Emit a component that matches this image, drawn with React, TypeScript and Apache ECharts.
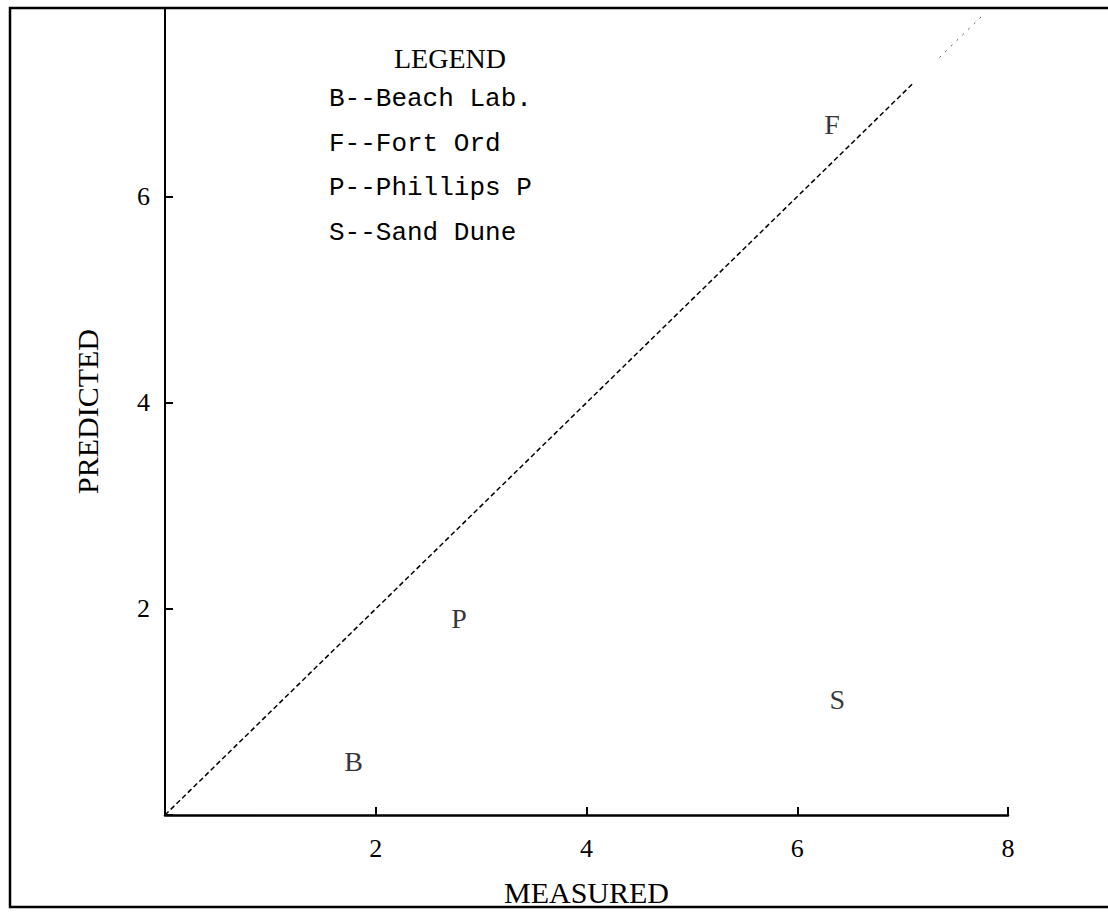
import React, { useEffect, useRef } from "react";
import * as echarts from "echarts";

const siteLetters = ["B", "P", "F", "S"];
const measured = [1.79, 2.79, 6.33, 6.38];
const predicted = [0.52, 1.91, 6.7, 1.12];
const identityMain = [0, 7.1];
const identityFaint = [7.35, 7.75];
const xTicks = [2, 4, 6, 8];
const yTicks = [2, 4, 6];
const legendTitle = "LEGEND";
const legendLines = ["B--Beach Lab.", "F--Fort Ord", "P--Phillips P", "S--Sand Dune"];

const SERIF = "'Liberation Serif', 'DejaVu Serif', serif";
const MONO = "'Liberation Mono', 'DejaVu Sans Mono', monospace";

export default function App() {
  const ref = useRef<HTMLDivElement>(null);
  useEffect(() => {
    if (!ref.current) return;
    const chart = echarts.init(ref.current, undefined, { renderer: "svg" });
    const pts = measured.map((x, i) => [x, predicted[i], siteLetters[i]]);
    const legendGraphics: any[] = [
      {
        type: "text",
        left: 452 - 58,
        top: 44,
        style: { text: legendTitle, font: `28px ${SERIF}`, fill: "#000" },
      },
      ...legendLines.map((t, i) => ({
        type: "text",
        left: 329,
        top: 86 + i * 44.7,
        style: { text: t, font: `26px ${MONO}`, fill: "#000" },
      })),
    ];
    chart.setOption({
      animation: false,
      backgroundColor: "#fff",
      grid: { left: 165, top: 8, width: 843, height: 814 },
      xAxis: {
        type: "value",
        min: 0,
        max: 8,
        interval: 2,
        axisLine: { show: true, lineStyle: { color: "#000", width: 2.5 } },
        axisTick: { show: true, inside: true, length: 8, lineStyle: { color: "#000", width: 2 } },
        splitLine: { show: false },
        axisLabel: {
          margin: 20,
          fontFamily: SERIF,
          fontSize: 26,
          color: "#000",
          formatter: (v: number) => (xTicks.includes(v) ? String(v) : ""),
        },
        name: "MEASURED",
        nameLocation: "middle",
        nameGap: 62,
        nameTextStyle: { fontFamily: SERIF, fontSize: 30, color: "#000" },
      },
      yAxis: {
        type: "value",
        min: 0,
        max: 7.83,
        interval: 2,
        axisLine: { show: true, lineStyle: { color: "#000", width: 2 } },
        axisTick: { show: true, inside: true, length: 8, lineStyle: { color: "#000", width: 2 } },
        splitLine: { show: false },
        axisLabel: {
          margin: 15,
          fontFamily: SERIF,
          fontSize: 26,
          color: "#000",
          showMaxLabel: false,
          formatter: (v: number) => (yTicks.includes(v) ? String(v) : ""),
        },
        name: "PREDICTED",
        nameLocation: "middle",
        nameGap: 63,
        nameTextStyle: { fontFamily: SERIF, fontSize: 30, color: "#000" },
      },
      series: [
        {
          type: "line",
          data: identityMain.map((v) => [v, v]),
          symbol: "none",
          lineStyle: { color: "#000", width: 1.5, type: [5, 3] },
          z: 2,
        },
        {
          type: "line",
          data: identityFaint.map((v) => [v, v]),
          symbol: "none",
          lineStyle: { color: "#555", width: 1, type: [2, 6] },
          z: 2,
        },
        {
          type: "scatter",
          data: pts,
          symbol: "circle",
          symbolSize: 2,
          itemStyle: { color: "rgba(0,0,0,0)" },
          label: {
            show: true,
            position: "inside",
            formatter: (p: any) => p.data[2],
            fontFamily: SERIF,
            fontSize: 28,
            color: "#000",
          },
          z: 3,
        },
      ],
      graphic: [
        {
          type: "polyline",
          shape: {
            points: [
              [1108, 8],
              [10, 8],
              [10, 907],
              [1108, 907],
            ],
          },
          style: { stroke: "#000", lineWidth: 2.5, fill: "none" },
          silent: true,
        },
        ...legendGraphics,
      ],
    });
    return () => chart.dispose();
  }, []);
  return (
    <div
      ref={ref}
      style={{ position: "fixed", left: 0, top: 0, width: 1108, height: 912, background: "#fff" }}
    />
  );
}
